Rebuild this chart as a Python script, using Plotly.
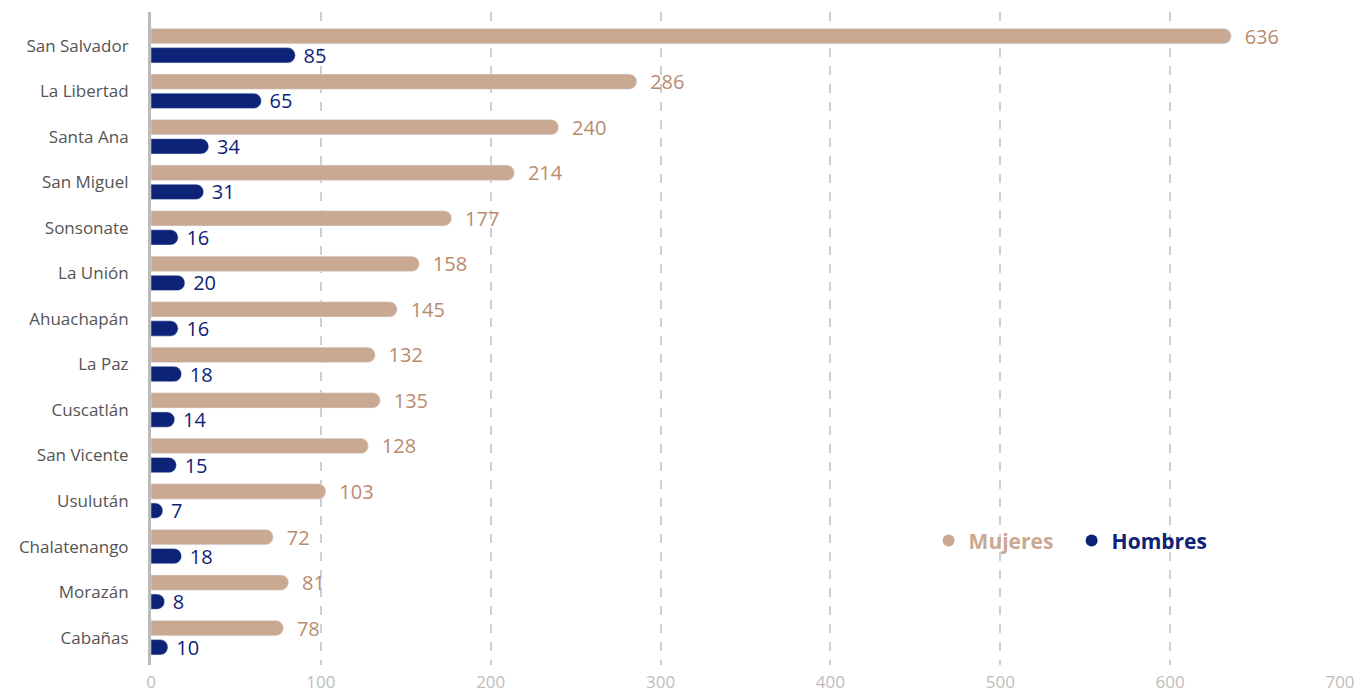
import plotly.graph_objects as go

categories = ["San Salvador", "La Libertad", "Santa Ana", "San Miguel", "Sonsonate",
              "La Unión", "Ahuachapán", "La Paz", "Cuscatlán", "San Vicente",
              "Usulután", "Chalatenango", "Morazán", "Cabañas"]
mujeres = [636, 286, 240, 214, 177, 158, 145, 132, 135, 128, 103, 72, 81, 78]
hombres = [85, 65, 34, 31, 16, 20, 16, 18, 14, 15, 7, 18, 8, 10]
x_ticks = [0, 100, 200, 300, 400, 500, 600, 700]

C_M = "#C9A991"
C_M_TXT = "#B98B6F"
C_H = "#0D2377"
FONT = "Open Sans"

fig = go.Figure()
fig.add_trace(go.Bar(
    y=categories, x=mujeres, orientation="h", name="Mujeres",
    marker=dict(color=C_M, cornerradius="50%"),
    text=mujeres, texttemplate="\u00a0\u00a0%{x}", textposition="outside",
    constraintext="none",
    textfont=dict(color=C_M_TXT, size=20, family=FONT),
    cliponaxis=False, showlegend=False,
))
fig.add_trace(go.Bar(
    y=categories, x=hombres, orientation="h", name="Hombres",
    marker=dict(color=C_H, cornerradius="50%"),
    text=hombres, texttemplate="\u00a0%{x}", textposition="outside",
    constraintext="none",
    textfont=dict(color=C_H, size=20, family=FONT),
    cliponaxis=False, showlegend=False,
))
# legend entries with circle symbols
fig.add_trace(go.Scatter(x=[None], y=[None], mode="markers", name=f"<b><span style='color:{C_M}'>Mujeres</span></b>",
                         marker=dict(color=C_M, size=12, symbol="circle")))
fig.add_trace(go.Scatter(x=[None], y=[None], mode="markers", name=f"<b><span style='color:{C_H}'>Hombres</span></b>",
                         marker=dict(color=C_H, size=12, symbol="circle")))

fig.update_layout(
    width=1369, height=694,
    margin=dict(l=143, r=37, t=4, b=37, autoexpand=False),
    paper_bgcolor="white", plot_bgcolor="white",
    barmode="group", bargap=0.16, bargroupgap=0.2,
    font=dict(family=FONT, size=17, color="#555555"),
    showlegend=True,
    legend=dict(orientation="h", x=0.654, y=0.19, xanchor="left", yanchor="middle",
                font=dict(size=21, family=FONT), bgcolor="rgba(0,0,0,0)",
                entrywidth=98, itemsizing="constant"),
    xaxis=dict(range=[0, 700], tickvals=x_ticks, showgrid=True, gridcolor="#CFCFCF",
               griddash="dash", gridwidth=1.5, zeroline=False, showline=False,
               tickfont=dict(color="#BDBDBD", size=17), ticks="", ticklen=0,
               ticklabelstandoff=5, automargin=False),
    yaxis=dict(type="category", categoryorder="array", categoryarray=categories,
               range=[13.6, -0.74], showline=True, linecolor="#BBBBBB", linewidth=3,
               showgrid=False, ticks="", ticklabelstandoff=16, automargin=False,
               tickfont=dict(color="#555555", size=17)),
)

fig.write_html("out.html")
